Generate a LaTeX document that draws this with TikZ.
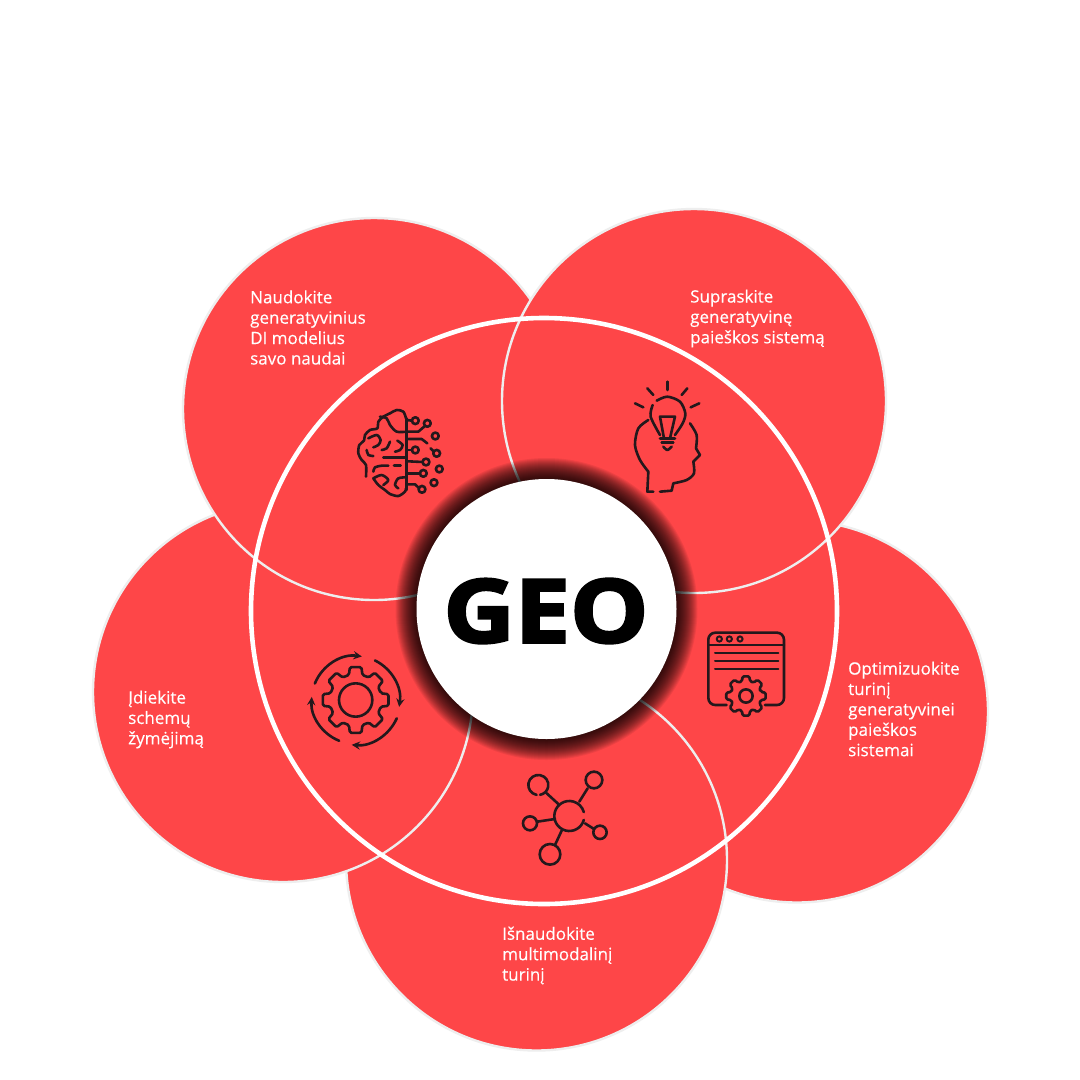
\documentclass[tikz,border=0pt]{standalone}
\usepackage{fontspec}
\setmainfont{Open Sans}
\newfontfamily\geofont[FakeBold=3,FakeStretch=1.12]{Open Sans}
\newfontfamily\labelfont[FakeBold=0.35]{Open Sans}
\definecolor{petalR}{RGB}{254,70,72}
\definecolor{rimW}{RGB}{238,238,238}
\definecolor{iconK}{RGB}{36,24,28}
\tikzset{
  petal/.style={fill=petalR,draw=rimW,line width=2.4pt},
  label/.style={text=white,anchor=west,align=left,inner sep=0pt,font=\labelfont\fontsize{17}{20.4}\selectfont},
  iconline/.style={draw=iconK,line width=2.6pt,line cap=round,line join=round},
  zoomA/.style={x=0.33333pt,y=-0.33333pt,shift={(1020,1110)}},
  zoomB/.style={x=0.33333pt,y=-0.33333pt,shift={(870,1860)}},
}
\newcommand{\gearat}[4]{% centre, outer radius, inner radius, hole radius
  \draw[iconline,rounded corners=1.5pt,shift={#1}]
    (-15:#3) foreach \a in {0,45,...,315}{ -- (\a-15:#3) -- (\a-10:#2) -- (\a+10:#2) -- (\a+15:#3) } -- cycle;
  \draw[iconline] #1 circle(#4);
}
\begin{document}
\begin{tikzpicture}[x=1pt,y=-1pt,>=stealth]
\useasboundingbox (0,0) rectangle (1080,1080);
\fill[white] (0,0) rectangle (1080,1080);
\draw[petal] (797,711.5) circle(191);
\draw[petal] (536.5,860) circle(190.5);
\draw[petal] (283,692) circle(190);
\draw[petal] (374,409) circle(191);
\draw[petal] (694,401) circle(192);
\draw[white,line width=4.6pt] (544,611) circle(293);
% glow
\foreach \r in {151,150,...,131}
  \fill[black,opacity=0.065] (546.5,609) circle(\r);
\node[circle,fill=white,minimum size=260pt,inner sep=0pt] (geo) at (546.5,609) {};
\node[font=\geofont\fontsize{88}{88}\selectfont\bfseries,inner sep=0pt] (geotext) at (546,611) {GEO};
\node[label] (brainlabel) at (250,327.5) {Naudokite\\generatyvinius\\DI modelius\\savo naudai};
\node[label] (searchlabel) at (690,318.5) {Supraskite\\generatyvinę\\paieškos sistemą};
\node[label] (schemalabel) at (128,719.5) {Įdiekite\\schemų\\žymėjimą};
\node[label] (contentlabel) at (848,709) {Optimizuokite\\turinį\\generatyvinei\\paieškos\\sistemai};
\node[label] (medialabel) at (502,955.5) {Išnaudokite\\multimodalinį\\turinį};
% brain
\begin{scope}[zoomA]
\draw[iconline] plot[smooth] coordinates{(198,145) (190,125) (170,120) (150,130) (130,140) (115,155) (112,175) (90,180) (75,195) (72,212) (58,225) (55,250) (65,270) (78,285) (78,320)};
\draw[iconline] plot[smooth] coordinates{(100,325) (115,345) (135,360) (150,372) (175,378) (195,365) (198,355)};
\draw[iconline] (200,145)--(200,360);
\draw[iconline] plot[smooth] coordinates{(120,140) (140,145) (150,165) (170,185) (200,185)};
\draw[iconline] plot[smooth] coordinates{(85,205) (110,195) (122,210) (115,225) (100,232)};
\draw[iconline] plot[smooth] coordinates{(150,215) (140,235) (125,240)};
\draw[iconline] plot[smooth] coordinates{(172,212) (188,225) (180,240) (165,245)};
\draw[iconline] plot[smooth] coordinates{(80,240) (85,255) (100,258)};
\draw[iconline] (130,262)--(200,262);
\draw[iconline] plot[smooth] coordinates{(100,305) (105,292) (125,287) (145,287)};
\draw[iconline] (162,287)--(182,287);
\draw[iconline] plot[smooth] coordinates{(100,325) (125,315) (145,330) (130,345)};
\draw[iconline] plot[smooth] coordinates{(200,322) (175,325) (165,345) (175,355)};
\foreach \x/\y in {226/152,262/160,286/198,226/240,290/250,258/276,298/297,250/310,282/338,246/358}
  \draw[iconline] (\x,\y) circle(3.4pt);
\draw[iconline] (200,150)--(216,152);
\draw[iconline] (205,185)--(235,185)--(256,167);
\draw[iconline] (205,207)--(245,207)--(262,220);
\draw[iconline] (205,240)--(216,240);
\draw[iconline] (272,235)--(282,245);
\draw[iconline] (205,274)--(248,276);
\draw[iconline] (205,310)--(240,310);
\draw[iconline] (205,343)--(225,343)--(238,355);
% head and bulb
\foreach \xa/\ya/\xb/\yb in {982/35/982/60,922/55/940/75,1042/55/1025/75,885/100/910/112,1078/100/1052/112}
  \draw[iconline] (\xa,\ya)--(\xb,\yb);
\draw[iconline] plot[smooth] coordinates{(950,92) (982,80) (1020,95) (1036,130) (1028,160) (1005,195)};
\draw[iconline] plot[smooth] coordinates{(938,105) (932,140) (960,195)};
\draw[iconline] (960,140)--(1005,140)--(990,205)--(972,205)--cycle;
\draw[iconline] (960,205)--(1005,205);
\draw[iconline] (965,218)--(1000,218);
\draw[iconline] plot[smooth] coordinates{(970,230) (982,240) (995,230)};
\draw[iconline] plot[smooth] coordinates{(925,150) (895,175) (885,225) (900,270) (925,305)};
\draw[iconline] (925,305)--(922,365)--(940,365);
\draw[iconline] plot[smooth] coordinates{(1050,160) (1070,195) (1068,235)};
\draw[iconline] (1068,235)--(1080,255)--(1060,275);
\draw[iconline] plot[smooth] coordinates{(1060,275) (1062,310) (1040,330) (1000,340)};
\draw[iconline] (1000,340)--(995,362)--(960,365);
\end{scope}
\begin{scope}[zoomB]
% turning gear
\gearat{(197,240)}{100}{78}{50}
\draw[iconline,->] (197,240)++(202:132) arc(202:278:132);
\draw[iconline,->] (197,240)++(296:132) arc(296:369:132);
\draw[iconline,->] (197,240)++(24:135) arc(24:95:135);
\draw[iconline,->] (197,240)++(112:132) arc(112:184:132);
% window
\draw[iconline,rounded corners=7pt] (1310,255)--(1255,255)--(1255,38)--(1482,38)--(1482,255)--(1425,255);
\draw[iconline] (1255,75)--(1482,75);
\foreach \x in {1288,1318,1350}
  \draw[iconline,line width=2pt] (\x,57) circle(2.6pt);
\foreach \y in {98,122,146}
  \draw[iconline,line width=2pt] (1275,\y)--(1465,\y);
\gearat{(1368,228)}{60}{46}{20}
% network
\draw[iconline] (838,588)++(15:45) arc(15:345:45);
\draw[iconline] (745,495)++(100:30) arc(100:440:30);
\foreach \x/\y/\s in {912/480/25,720/610/21,930/637/20,780/703/31}
  \draw[iconline] (\x,\y) circle(\s);
\draw[iconline] (768,518)--(805,552);
\draw[iconline] (893,505)--(868,545);
\draw[iconline] (742,605)--(795,597);
\draw[iconline] (885,610)--(912,627);
\draw[iconline] (815,632)--(795,675);
\end{scope}
\end{tikzpicture}
\end{document}
